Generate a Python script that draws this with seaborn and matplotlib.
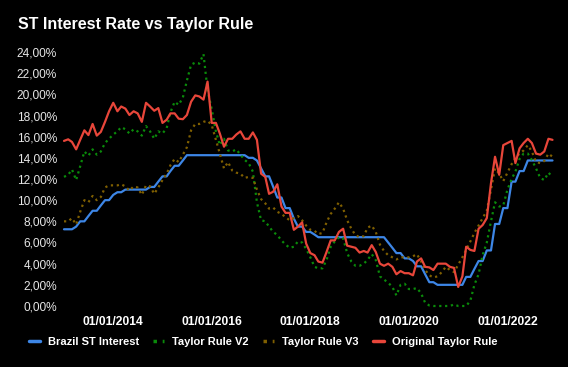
import pandas as pd
import matplotlib
matplotlib.use('Agg')
import matplotlib.pyplot as plt
import matplotlib.dates as mdates
from matplotlib.ticker import FuncFormatter
import seaborn as sns

# monthly series, Jan 2013 .. Dec 2022
dates = pd.date_range('2013-01-01', periods=120, freq='MS')

brazil_st = [
    7.25, 7.25, 7.25, 7.5, 8.0, 8.0, 8.5, 9.0, 9.0, 9.5, 10.0, 10.0,
    10.5, 10.75, 10.75, 11.0, 11.0, 11.0, 11.0, 11.0, 11.0, 11.25, 11.25, 11.75,
    12.25, 12.25, 12.75, 13.25, 13.25, 13.75, 14.25, 14.25, 14.25, 14.25, 14.25, 14.25,
    14.25, 14.25, 14.25, 14.25, 14.25, 14.25, 14.25, 14.25, 14.25, 14.0, 14.0, 13.75,
    13.0, 12.25, 12.25, 11.25, 10.25, 10.25, 9.25, 9.25, 8.25, 7.5, 7.5, 7.0,
    7.0, 6.75, 6.5, 6.5, 6.5, 6.5, 6.5, 6.5, 6.5, 6.5, 6.5, 6.5,
    6.5, 6.5, 6.5, 6.5, 6.5, 6.5, 6.5, 6.0, 5.5, 5.0, 5.0, 4.5,
    4.5, 4.25, 3.75, 3.75, 3.0, 2.25, 2.25, 2.0, 2.0, 2.0, 2.0, 2.0,
    2.0, 2.0, 2.75, 2.75, 3.5, 4.25, 4.25, 5.25, 5.25, 7.75, 7.75, 9.25,
    9.25, 11.75, 11.75, 12.75, 12.75, 13.75, 13.75, 13.75, 13.75, 13.75, 13.75, 13.75,
]

taylor_v2 = [
    12.2, 12.4, 12.9, 11.9, 13.2, 14.6, 14.2, 14.8, 14.3, 14.6, 15.4, 15.8,
    16.2, 16.5, 16.9, 16.7, 16.3, 16.7, 16.5, 16.1, 17.0, 16.5, 15.8, 16.5,
    16.3, 16.8, 18.3, 19.3, 19.0, 19.7, 21.3, 22.8, 23.0, 22.9, 23.8, 20.4,
    18.6, 16.5, 15.2, 15.8, 14.7, 14.6, 14.8, 14.3, 13.8, 13.5, 12.7, 9.8,
    8.1, 8.0, 7.5, 7.0, 6.7, 6.2, 5.8, 5.5, 5.6, 6.1, 6.0, 5.4,
    4.6, 3.7, 3.56, 3.56, 4.35, 5.6, 6.1, 6.5, 6.4, 5.0, 4.2, 3.8,
    3.8, 4.0, 4.35, 4.9, 4.35, 2.8, 2.5, 2.2, 1.8, 1.0, 2.0, 2.1,
    1.6, 1.6, 1.7, 1.2, 0.3, 0.05, 0.0, 0.0, 0.0, 0.0, 0.0, 0.15,
    0.0, 0.0, 0.0, 0.5, 2.0, 3.0, 4.8, 6.0, 8.0, 9.8, 9.4, 9.5,
    11.0, 12.0, 12.7, 13.9, 14.4, 14.4, 13.8, 13.0, 12.1, 11.9, 12.6, 12.2,
]

taylor_v3 = [
    8.0, 8.0, 8.3, 7.7, 8.9, 10.0, 9.8, 10.4, 10.0, 10.3, 11.2, 11.4,
    11.4, 11.4, 11.5, 11.3, 10.9, 11.3, 11.2, 10.5, 11.4, 11.3, 10.6, 11.2,
    11.9, 12.5, 13.3, 13.9, 13.6, 14.3, 15.0, 16.6, 17.2, 17.2, 17.4, 17.5,
    17.1, 15.7, 14.4, 13.0, 13.6, 12.8, 12.6, 12.5, 12.1, 12.2, 12.1, 11.0,
    10.1, 9.7, 9.2, 9.3, 8.9, 8.7, 8.4, 8.1, 8.3, 8.5, 8.1, 7.6,
    7.2, 7.1, 6.8, 6.9, 7.9, 8.7, 9.2, 9.8, 9.2, 8.1, 7.3, 6.7,
    6.5, 6.6, 7.4, 7.6, 7.0, 5.8, 5.2, 4.8, 4.6, 4.4, 4.6, 4.6,
    4.6, 4.7, 4.9, 4.2, 3.4, 2.9, 2.7, 2.8, 3.2, 3.7, 3.4, 3.2,
    3.9, 4.6, 5.3, 6.1, 6.9, 7.6, 8.3, 9.0, 11.0, 13.0, 12.5, 11.8,
    12.6, 13.4, 14.0, 14.4, 14.7, 15.2, 14.6, 13.6, 13.5, 13.7, 14.4, 14.1,
]

taylor_orig = [
    15.6, 15.75, 15.5, 14.8, 15.7, 16.6, 16.15, 17.2, 16.1, 16.45, 17.4, 18.4,
    19.2, 18.4, 18.85, 18.65, 18.05, 18.4, 18.2, 17.4, 19.2, 18.85, 18.45, 18.7,
    17.3, 17.6, 18.2, 18.2, 17.7, 17.65, 18.05, 19.3, 19.9, 19.8, 19.5, 21.2,
    17.3, 17.3, 16.3, 15.05, 15.8, 15.8, 16.2, 16.5, 15.8, 15.8, 16.4, 15.7,
    12.5, 12.2, 10.6, 10.8, 11.5, 9.4, 8.8, 8.8, 7.2, 7.5, 7.9, 5.9,
    5.0, 4.8, 4.2, 4.1, 5.1, 6.2, 6.2, 7.0, 7.3, 5.7, 5.6, 5.5,
    5.05, 5.2, 5.05, 5.75, 5.1, 4.0, 3.8, 4.0, 3.7, 3.0, 3.3, 3.1,
    3.1, 2.9, 4.2, 4.5, 3.7, 3.65, 3.4, 4.0, 4.0, 4.0, 3.7, 3.6,
    1.8, 2.8, 5.6, 5.3, 5.2, 7.3, 7.65, 8.3, 11.6, 14.1, 12.4, 15.2,
    15.4, 15.6, 13.5, 14.9, 15.4, 15.8, 15.4, 14.4, 14.3, 14.6, 15.8, 15.7,
]

series_names = ['Brazil ST Interest', 'Taylor Rule V2', 'Taylor Rule V3', 'Original Taylor Rule']
series_colors = ['#3d86e6', '#0a8a0a', '#7f5f00', '#e8463a']
series_styles = ['-', ':', ':', '-']

df = pd.DataFrame({'date': dates,
                   series_names[0]: brazil_st,
                   series_names[1]: taylor_v2,
                   series_names[2]: taylor_v3,
                   series_names[3]: taylor_orig})

sns.set_style('dark')
plt.rcParams['font.family'] = ['Liberation Sans', 'DejaVu Sans']

fig = plt.figure(figsize=(5.68, 3.67), dpi=100, facecolor='black')
ax = fig.add_axes([64 / 568, 1 - 306 / 367, (552.5 - 64) / 568, (306 - 52) / 367])
ax.set_facecolor('black')

for name, col, ls in zip(series_names, series_colors, series_styles):
    sns.lineplot(data=df, x='date', y=name, ax=ax, color=col, linestyle=ls,
                 linewidth=1.6, label=name, clip_on=False)

ax.set_xlim(dates[0], dates[-1])
ax.set_ylim(0, 24)
ax.set_yticks(range(0, 25, 2))
ax.yaxis.set_major_formatter(FuncFormatter(lambda v, p: f"{v:.2f}".replace('.', ',') + '%'))
ax.set_xticks(pd.to_datetime(['2014-01-01', '2016-01-01', '2018-01-01', '2020-01-01', '2022-01-01']))
ax.xaxis.set_major_formatter(mdates.DateFormatter('%d/%m/%Y'))
ax.tick_params(axis='y', length=0, pad=5, labelsize=8.6, labelcolor='#e6e6e6')
ax.tick_params(axis='x', length=0, pad=7, labelsize=8.7, labelcolor='white')
for lab in ax.get_xticklabels():
    lab.set_fontweight('bold')
ax.set_xlabel('')
ax.set_ylabel('')
ax.grid(False)
for s in ax.spines.values():
    s.set_visible(False)

handles, labels = ax.get_legend_handles_labels()
ax.get_legend().remove()
leg = fig.legend(handles, labels, loc='center', bbox_to_anchor=(263 / 568, 1 - 342 / 367), ncol=4,
                 frameon=False, handlelength=1.0, handletextpad=0.7, columnspacing=1.3,
                 prop={'size': 8.0, 'weight': 'bold'})
for t in leg.get_texts():
    t.set_color('white')
for h in leg.legend_handles:
    h.set_linewidth(2.5)

fig.text(18 / 568, 1 - 25 / 367, 'ST Interest Rate vs Taylor Rule', color='white',
         fontsize=11.5, fontweight='bold', ha='left', va='center')

fig.savefig('out.png', dpi=100, facecolor='black')
